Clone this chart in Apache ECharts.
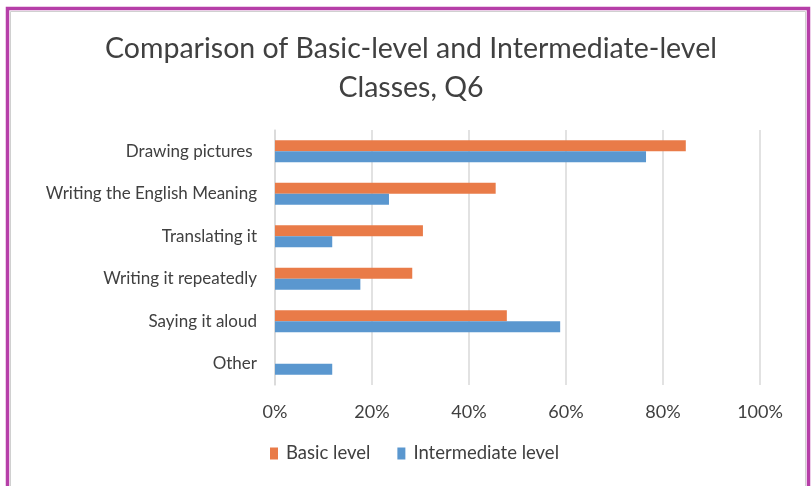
<!DOCTYPE html>
<html>
<head>
<meta charset="utf-8">
<script src="https://cdn.jsdelivr.net/npm/echarts@6/dist/echarts.min.js"></script>
<style>
html,body{margin:0;padding:0;background:#fff;}
#c{width:811px;height:486px;}
</style>
</head>
<body>
<div id="c"></div>
<script>
const categories = ["Drawing pictures ", "Writing the English Meaning", "Translating it", "Writing it repeatedly", "Saying it aloud", "Other"];
const basicLevel = [84.7, 45.5, 30.5, 28.3, 47.8, 0];
const intermediateLevel = [76.5, 23.5, 11.8, 17.6, 58.8, 11.8];
const xTicks = [0, 20, 40, 60, 80, 100];
const titleLines = "Comparison of Basic-level and Intermediate-level\nClasses, Q6";

const FONT = "Lato";
const chart = echarts.init(document.getElementById('c'), null, {renderer: 'canvas'});
chart.setOption({
  backgroundColor: '#ffffff',
  animation: false,
  legend: {
    bottom: 18,
    left: 265,
    itemWidth: 8,
    itemHeight: 12,
    itemGap: 27,
    icon: 'rect',
    textStyle: {fontFamily: FONT, fontSize: 18.5, color: '#404040', padding: [0, 0, 0, 3]},
    data: ['Basic level', 'Intermediate level']
  },
  grid: {left: 275, right: 51, top: 130, bottom: 101, containLabel: false},
  xAxis: {
    type: 'value',
    min: 0, max: 100, interval: 20,
    axisLine: {show: false},
    axisTick: {show: false},
    splitLine: {lineStyle: {color: '#d9d9d9', width: 1.5}},
    axisLabel: {formatter: v => xTicks.includes(v) ? v + '%' : '', fontFamily: FONT, fontSize: 18, color: '#404040', margin: 18}
  },
  yAxis: {
    type: 'category',
    data: categories,
    inverse: true,
    axisLine: {show: true, lineStyle: {color: '#d9d9d9', width: 1.5}},
    axisTick: {show: false},
    axisLabel: {fontFamily: FONT, fontSize: 17, color: '#404040', margin: 18}
  },
  series: [
    {name: 'Basic level', type: 'bar', data: basicLevel, barGap: '0%', barCategoryGap: '48%',
     itemStyle: {color: '#E97B48'}},
    {name: 'Intermediate level', type: 'bar', data: intermediateLevel,
     itemStyle: {color: '#5A97CF'}}
  ],
  graphic: [
    {type: 'text', silent: true, x: 411, y: 29,
     style: {text: titleLines, fontFamily: FONT, fontSize: 28.5, fill: '#404040',
             align: 'center', verticalAlign: 'top', lineHeight: 39}},
    {type: 'rect', silent: true, z: 100,
     shape: {x: 7.5, y: 8.5, width: 801, height: 500},
     style: {fill: 'none', stroke: '#B63FA8', lineWidth: 3.5}},
    {type: 'rect', silent: true, z: 100,
     shape: {x: 10.5, y: 11.5, width: 795, height: 495},
     style: {fill: 'none', stroke: '#d0d0d0', lineWidth: 1}}
  ]
});
</script>
</body>
</html>
